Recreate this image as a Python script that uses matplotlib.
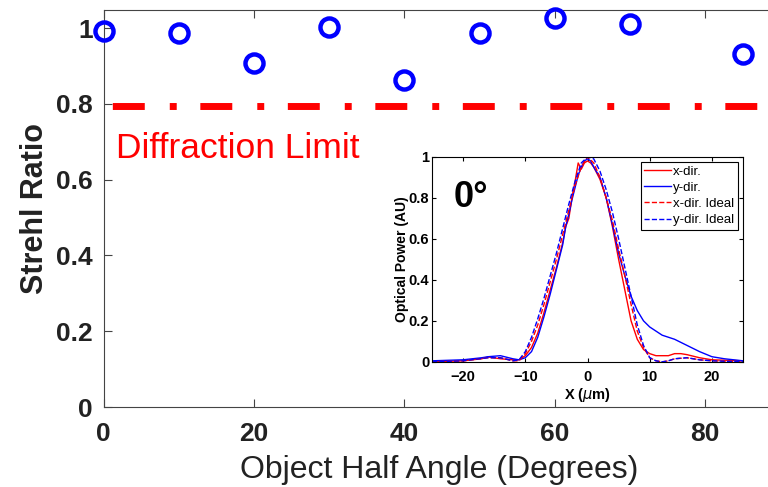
import matplotlib
matplotlib.use('Agg')
import matplotlib.pyplot as plt

plt.rcParams['font.family'] = ['Liberation Sans', 'DejaVu Sans']
plt.rcParams['lines.scale_dashes'] = False

# main plot: Strehl ratio vs object half angle
angles = [0, 10, 20, 30, 40, 50, 60, 70, 85]
strehl = [0.993, 0.986, 0.907, 1.002, 0.863, 0.988, 1.026, 1.011, 0.931]
diff_limit = 0.795

# inset: line profiles at 0 degrees
x_meas = [-25, -20, -17, -16, -14, -12, -11, -10, -9, -8, -7, -6, -5, -4, -3.5, -3,
          -2.5, -2, -1.5, -1, -0.5, 0, 0.5, 1, 2, 3, 4, 5, 6, 7, 8, 9, 10, 11, 12,
          13, 14, 15, 16, 18, 20, 22, 25]
x_dir = [0.0, 0.005, 0.015, 0.024, 0.015, 0.01, 0.01, 0.03, 0.07, 0.14, 0.24, 0.35,
         0.46, 0.58, 0.66, 0.70, 0.80, 0.88, 0.97, 0.94, 0.97, 0.98, 0.97, 0.95, 0.89,
         0.80, 0.66, 0.50, 0.35, 0.20, 0.11, 0.06, 0.04, 0.03, 0.03, 0.03, 0.04, 0.04,
         0.035, 0.02, 0.01, 0.008, 0.005]
y_dir = [0.005, 0.01, 0.02, 0.025, 0.03, 0.015, 0.01, 0.02, 0.05, 0.12, 0.22, 0.33,
         0.45, 0.57, 0.66, 0.72, 0.79, 0.85, 0.91, 0.95, 0.98, 0.99, 0.98, 0.95, 0.90,
         0.80, 0.67, 0.53, 0.42, 0.32, 0.25, 0.20, 0.17, 0.15, 0.13, 0.12, 0.11, 0.095,
         0.08, 0.05, 0.025, 0.015, 0.005]

x_ideal = [-25, -20, -16, -14, -12, -11, -10, -9, -8, -7, -6, -5, -4, -3, -2, -1, 0,
           1, 2, 3, 4, 5, 6, 7, 8, 9, 10, 11, 12, 13, 14, 16, 18, 20, 25]
x_dir_ideal = [0.0, 0.005, 0.02, 0.02, 0.005, 0.005, 0.04, 0.10, 0.18, 0.28, 0.39,
               0.50, 0.62, 0.74, 0.86, 0.95, 1.0, 0.97, 0.90, 0.80, 0.69, 0.55, 0.42,
               0.28, 0.15, 0.07, 0.02, 0.005, 0.0, 0.005, 0.015, 0.02, 0.01, 0.005, 0.0]
y_dir_ideal = [0.0, 0.005, 0.02, 0.02, 0.005, 0.01, 0.05, 0.12, 0.21, 0.31, 0.42,
               0.53, 0.65, 0.77, 0.88, 0.97, 1.0, 0.99, 0.93, 0.84, 0.73, 0.60, 0.46,
               0.32, 0.18, 0.08, 0.02, 0.005, 0.0, 0.005, 0.015, 0.02, 0.01, 0.005, 0.0]

fig = plt.figure(figsize=(7.68, 4.87), dpi=100)
ax = fig.add_axes([0.135, 0.164, 0.875, 0.815])

ax.plot(angles, strehl, 'o', color='#0000ff', markersize=13, markerfacecolor='none',
        markeredgewidth=3.2, clip_on=False, zorder=3)
ax.plot([0, 90], [diff_limit, diff_limit], color='red', linewidth=5,
        linestyle=(-6, (23, 18, 5, 17)))
ax.text(1.6, 0.657, 'Diffraction Limit', color='red', fontsize=25.5)

ax.set_xlim(0, 89.4)
ax.set_ylim(0, 1.047)
ax.set_xticks([0, 20, 40, 60, 80])
ax.set_yticks([0, 0.2, 0.4, 0.6, 0.8, 1])
ax.set_yticklabels(['0', '0.2', '0.4', '0.6', '0.8', '1'])
ax.tick_params(direction='in', top=True, labelsize=19, length=6, color='#444444')
ax.tick_params(axis='x', pad=11)
ax.tick_params(axis='y', pad=8)
for lab in ax.get_xticklabels() + ax.get_yticklabels():
    lab.set_fontweight('bold')
    lab.set_color('#222222')
ax.set_xlabel('Object Half Angle (Degrees)', fontsize=23, labelpad=6, color='#222222')
ax.set_ylabel('Strehl Ratio', fontsize=22, fontweight='bold', labelpad=4, color='#222222')
for side in ['left', 'bottom', 'top', 'right']:
    ax.spines[side].set_color('#444444')

# inset
ins = fig.add_axes([0.5625, 0.257, 0.405, 0.421])
ins.plot(x_meas, x_dir, color='red', linewidth=1, label='x-dir.')
ins.plot(x_meas, y_dir, color='blue', linewidth=1, label='y-dir.')
ins.plot(x_ideal, x_dir_ideal, '--', color='red', linewidth=1, label='x-dir. Ideal')
ins.plot(x_ideal, y_dir_ideal, '--', color='blue', linewidth=1, label='y-dir. Ideal')
ins.set_xlim(-25, 25)
ins.set_ylim(0, 1)
ins.set_xticks([-20, -10, 0, 10, 20])
ins.set_yticks([0, 0.2, 0.4, 0.6, 0.8, 1])
ins.set_yticklabels(['0', '0.2', '0.4', '0.6', '0.8', '1'])
ins.tick_params(direction='in', top=True, right=True, labelsize=10.5, length=3)
ins.tick_params(axis='x', pad=6)
ins.tick_params(axis='y', pad=2)
for lab in ins.get_xticklabels() + ins.get_yticklabels():
    lab.set_fontweight('bold')
ins.set_xlabel('X ($\\mu$m)', fontsize=10.5, fontweight='bold', labelpad=1)
ins.set_ylabel('Optical Power (AU)', fontsize=10, fontweight='bold', labelpad=0)
ins.text(-21.6, 0.756, '0°', fontsize=26, fontweight='bold')
leg = ins.legend(loc='upper right', fontsize=9.5, handlelength=2.0, handletextpad=0.2,
                 borderpad=0.25, labelspacing=0.3, fancybox=False, framealpha=1,
                 borderaxespad=0.4)
leg.get_frame().set_edgecolor('black')
leg.get_frame().set_linewidth(0.8)

fig.savefig('out.png', dpi=100)
